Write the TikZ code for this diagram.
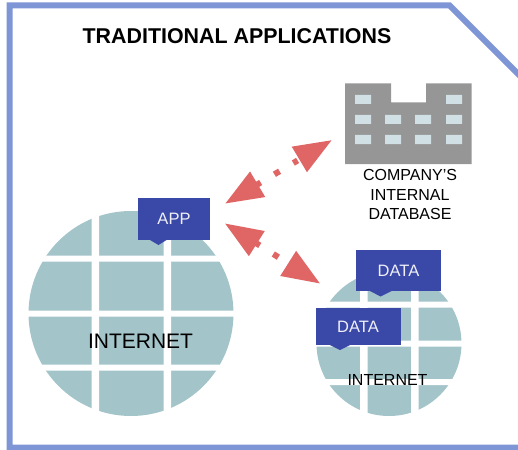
\documentclass[tikz,border=0pt]{standalone}
\usepackage{fontspec}
\setmainfont{Liberation Sans}
\usetikzlibrary{arrows.meta}
\definecolor{framecol}{HTML}{7F96D6}
\definecolor{globecol}{HTML}{A3C4C9}
\definecolor{boxcol}{HTML}{3A48A8}
\definecolor{towercol}{HTML}{969696}
\definecolor{windowcol}{HTML}{D0E0E4}
\definecolor{linkcol}{HTML}{E06666}
\tikzset{
  globe/.style={circle,fill=globecol,inner sep=0pt},
  tagbox/.style={fill=boxcol,text=white!92!boxcol,inner sep=0pt,font=\fontsize{16.5}{16.5}\selectfont},
  caption/.style={inner sep=0pt,align=center,text=black},
  link/.style={line width=6pt,linkcol,line cap=butt,dash pattern=on 5pt off 16pt on 6pt off 16pt,
    {Triangle[length=38pt,width=28pt]}-{Triangle[length=38pt,width=28pt]}},
}
\begin{document}
\begin{tikzpicture}[x=1pt,y=-1pt]
  \useasboundingbox (0,0) rectangle (518,449);
  \clip (0,0) rectangle (518,449);
  \draw[framecol,line width=6pt,line join=miter] (9.5,5.5) -- (449.5,5.5) -- (530,86) -- (530,447.5) -- (9.5,447.5) -- cycle;
  \node[caption,font=\bfseries\fontsize{21.4}{21.4}\selectfont] (title) at (237,36.5) {TRADITIONAL APPLICATIONS};
  % building
  \fill[towercol] (345,83.5) -- (391,83.5) -- (391,102.5) -- (426,102.5) -- (426,83.5) -- (471.5,83.5) -- (471.5,164) -- (345,164) -- cycle;
  \fill[windowcol] (355,95) rectangle (371,104) (446,95) rectangle (462,104);
  \fill[windowcol] (355,115) rectangle (371,124) (385,115) rectangle (401,124) (415,115) rectangle (431,124) (446,115) rectangle (462,124);
  \fill[windowcol] (355,135) rectangle (371,144) (385,135) rectangle (401,144) (415,135) rectangle (431,144) (446,135) rectangle (462,144);
  \node[caption,font=\fontsize{16}{19.5}\selectfont] (dblabel) at (410,194.5) {COMPANY’S\\INTERNAL\\DATABASE};
  % big globe
  \node[globe,minimum size=205pt] (bigglobe) at (131,313.5) {};
  \fill[white] (91.5,209) rectangle (99,418) (163.5,209) rectangle (171,418);
  \fill[white] (27,255.5) rectangle (235,261.5) (27,310.5) rectangle (235,316.5) (27,364.5) rectangle (235,370.5);
  \node[caption,font=\fontsize{21}{21}\selectfont] (biglabel) at (140.5,341.5) {INTERNET};
  \node[tagbox,minimum width=72.5pt,minimum height=41.5pt] (app) at (174,219) {APP};
  \fill[boxcol] (150,240) -- (158.5,245) -- (166.5,240) -- cycle;
  % small globe
  \node[globe,minimum size=145pt] (smallglobe) at (389,343.5) {};
  \fill[white] (360,270) rectangle (367.5,417) (411,270) rectangle (418.5,417);
  \fill[white] (315,301.5) rectangle (463,307.5) (315,340.5) rectangle (463,346.5) (315,379) rectangle (463,385);
  \node[caption,font=\fontsize{16}{16}\selectfont] (smalllabel) at (387.5,379.5) {INTERNET};
  \node[tagbox,minimum width=85pt,minimum height=41pt] (data1) at (398.5,270.5) {DATA};
  \fill[boxcol] (370,291) -- (380.5,296.5) -- (391.5,291) -- cycle;
  \node[tagbox,minimum width=85pt,minimum height=37pt] (data2) at (358,326.5) {DATA};
  \fill[boxcol] (330,345) -- (340,350) -- (350,345) -- cycle;
  % links
  \coordinate (appout) at (225,203.7);
  \coordinate (dbin) at (332,140);
  \coordinate (appdown) at (224.7,223.3);
  \coordinate (datain) at (320.3,283.7);
  \draw[link] (appout) -- (dbin);
  \draw[link] (appdown) -- (datain);
\end{tikzpicture}
\end{document}
